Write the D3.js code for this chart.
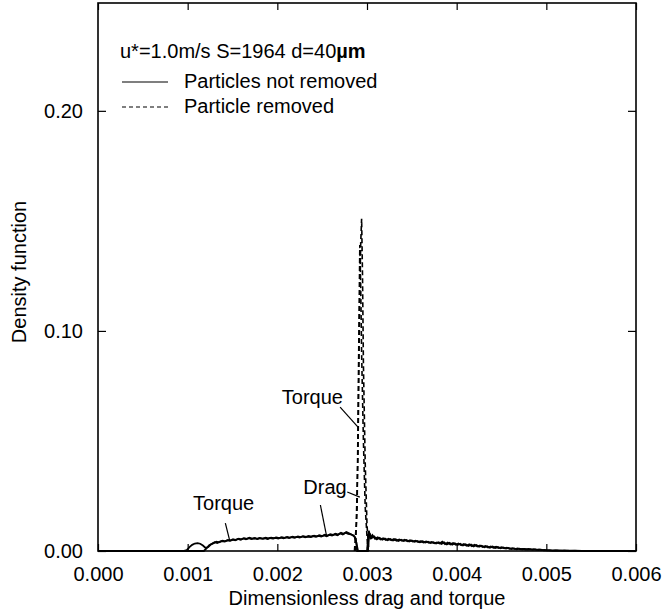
<!DOCTYPE html>
<html>
<head>
<meta charset="utf-8">
<script src="https://cdn.jsdelivr.net/npm/d3@7"></script>
<style>
  body { margin: 0; background: #fff; }
  svg { font-family: "Liberation Sans", Arial, sans-serif; }
</style>
</head>
<body>
<div id="chart"></div>
<script>
// x tick values and y tick values
const xTicks = [0, 0.001, 0.002, 0.003, 0.004, 0.005, 0.006];
const yTicks = [0, 0.10, 0.20];

// particles not removed - torque (solid), [x, density]
const torqueKept = [
  [0, 0], [0.00095, 0], [0.00099, 0.0004], [0.00102, 0.0018], [0.00105, 0.0028], [0.00108, 0.0034],
  [0.00111, 0.0036], [0.00114, 0.0033], [0.00117, 0.0025], [0.00120, 0.0014], [0.00123, 0.0018],
  [0.00126, 0.0030], [0.00129, 0.0036], [0.00132, 0.0042], [0.00135, 0.0039], [0.00138, 0.0045],
  [0.00141, 0.0043], [0.00144, 0.0048], [0.00147, 0.0046], [0.00150, 0.0052], [0.00153, 0.0049],
  [0.00156, 0.0055], [0.00159, 0.0051], [0.00162, 0.0057], [0.00165, 0.0053], [0.00168, 0.0058],
  [0.00171, 0.0054], [0.00174, 0.0057], [0.00177, 0.0055], [0.00180, 0.0059], [0.00183, 0.0056],
  [0.00186, 0.0058], [0.00189, 0.0054], [0.00192, 0.0059], [0.00195, 0.0056], [0.00198, 0.0060],
  [0.00201, 0.0057], [0.00204, 0.0061], [0.00207, 0.0058], [0.00210, 0.0062], [0.00213, 0.0059],
  [0.00216, 0.0063], [0.00219, 0.0060], [0.00222, 0.0064], [0.00225, 0.0061], [0.00228, 0.0066],
  [0.00231, 0.0062], [0.00234, 0.0065], [0.00237, 0.0063], [0.00240, 0.0068], [0.00243, 0.0064],
  [0.00246, 0.0069], [0.00249, 0.0066], [0.00252, 0.0071], [0.00255, 0.0067], [0.00258, 0.0073],
  [0.00261, 0.0070], [0.00264, 0.0076], [0.00267, 0.0072], [0.00270, 0.0080], [0.00273, 0.0075],
  [0.00276, 0.0083], [0.00279, 0.0078], [0.00282, 0.0076], [0.00285, 0.0071], [0.00287, 0.0060],
  [0.00289, 0.0020], [0.00290, 0],
  [0.00300, 0], [0.00301, 0.0040], [0.00302, 0.0092], [0.00304, 0.0060], [0.00306, 0.0072],
  [0.00309, 0.0055], [0.00312, 0.0062], [0.00315, 0.0052], [0.00318, 0.0058], [0.00321, 0.0050],
  [0.00324, 0.0056], [0.00327, 0.0049], [0.00330, 0.0054], [0.00333, 0.0047], [0.00336, 0.0052],
  [0.00339, 0.0046], [0.00342, 0.0051], [0.00345, 0.0044], [0.00348, 0.0049], [0.00351, 0.0043],
  [0.00354, 0.0047], [0.00357, 0.0041], [0.00360, 0.0045], [0.00363, 0.0039], [0.00366, 0.0043],
  [0.00369, 0.0037], [0.00372, 0.0041], [0.00375, 0.0035], [0.00378, 0.0039], [0.00381, 0.0034],
  [0.00384, 0.0042], [0.00387, 0.0031], [0.00390, 0.0038], [0.00393, 0.0030], [0.00396, 0.0036],
  [0.00399, 0.0028], [0.00402, 0.0034], [0.00405, 0.0026], [0.00408, 0.0032], [0.00411, 0.0024],
  [0.00414, 0.0030], [0.00417, 0.0022], [0.00420, 0.0028], [0.00423, 0.0020], [0.00426, 0.0025],
  [0.00429, 0.0018], [0.00432, 0.0023], [0.00435, 0.0016], [0.00438, 0.0021], [0.00441, 0.0015],
  [0.00444, 0.0019], [0.00447, 0.0013], [0.00450, 0.0017], [0.00453, 0.0012], [0.00456, 0.0015],
  [0.00459, 0.0010], [0.00462, 0.0013], [0.00465, 0.0009], [0.00468, 0.0012], [0.00471, 0.0008],
  [0.00474, 0.0010], [0.00477, 0.0007], [0.00480, 0.0009], [0.00483, 0.0006], [0.00486, 0.0008],
  [0.00489, 0.0005], [0.00492, 0.0007], [0.00495, 0.0004], [0.00498, 0.0005], [0.00501, 0.0003],
  [0.00504, 0.0004], [0.00507, 0.0002], [0.00510, 0.0003], [0.00514, 0.0002], [0.00520, 0.0003],
  [0.00526, 0.0001], [0.00532, 0.0002], [0.00540, 0.0001], [0.00550, 0], [0.00600, 0]
];

// particles not removed - drag (solid)
const dragKept = [
  [0, 0], [0.00118, 0], [0.00121, 0.0012], [0.00124, 0.0026], [0.00127, 0.0033], [0.00130, 0.0040],
  [0.00133, 0.0036], [0.00136, 0.0043], [0.00139, 0.0047], [0.00142, 0.0044], [0.00145, 0.0050],
  [0.00148, 0.0047], [0.00151, 0.0053], [0.00154, 0.0051], [0.00157, 0.0056], [0.00160, 0.0053],
  [0.00163, 0.0058], [0.00166, 0.0055], [0.00169, 0.0060], [0.00172, 0.0056], [0.00175, 0.0059],
  [0.00178, 0.0054], [0.00181, 0.0058], [0.00184, 0.0055], [0.00187, 0.0060], [0.00190, 0.0057],
  [0.00193, 0.0061], [0.00196, 0.0058], [0.00199, 0.0062], [0.00202, 0.0059], [0.00205, 0.0063],
  [0.00208, 0.0060], [0.00211, 0.0064], [0.00214, 0.0061], [0.00217, 0.0065], [0.00220, 0.0062],
  [0.00223, 0.0066], [0.00226, 0.0063], [0.00229, 0.0067], [0.00232, 0.0064], [0.00235, 0.0068],
  [0.00238, 0.0065], [0.00241, 0.0070], [0.00244, 0.0067], [0.00247, 0.0072], [0.00250, 0.0068],
  [0.00253, 0.0074], [0.00256, 0.0070], [0.00259, 0.0076], [0.00262, 0.0073], [0.00265, 0.0079],
  [0.00268, 0.0075], [0.00271, 0.0083], [0.00274, 0.0078], [0.00277, 0.0086], [0.00280, 0.0080],
  [0.00283, 0.0074], [0.00286, 0.0066], [0.00288, 0.0040], [0.00289, 0],
  [0.00301, 0], [0.00302, 0.0050], [0.00303, 0.0080], [0.00305, 0.0058], [0.00308, 0.0066],
  [0.00311, 0.0053], [0.00314, 0.0060], [0.00317, 0.0051], [0.00320, 0.0057], [0.00323, 0.0049],
  [0.00326, 0.0055], [0.00329, 0.0048], [0.00332, 0.0053], [0.00335, 0.0046], [0.00338, 0.0051],
  [0.00341, 0.0045], [0.00344, 0.0050], [0.00347, 0.0043], [0.00350, 0.0048], [0.00353, 0.0042],
  [0.00356, 0.0046], [0.00359, 0.0040], [0.00362, 0.0044], [0.00365, 0.0038], [0.00368, 0.0042],
  [0.00371, 0.0036], [0.00374, 0.0040], [0.00377, 0.0034], [0.00380, 0.0040], [0.00383, 0.0032],
  [0.00386, 0.0039], [0.00389, 0.0030], [0.00392, 0.0037], [0.00395, 0.0029], [0.00398, 0.0035],
  [0.00401, 0.0027], [0.00404, 0.0033], [0.00407, 0.0025], [0.00410, 0.0031], [0.00413, 0.0023],
  [0.00416, 0.0029], [0.00419, 0.0021], [0.00422, 0.0027], [0.00425, 0.0019], [0.00428, 0.0024],
  [0.00431, 0.0017], [0.00434, 0.0022], [0.00437, 0.0015], [0.00440, 0.0020], [0.00443, 0.0014],
  [0.00446, 0.0018], [0.00449, 0.0012], [0.00452, 0.0016], [0.00455, 0.0011], [0.00458, 0.0014],
  [0.00461, 0.0009], [0.00464, 0.0012], [0.00467, 0.0008], [0.00470, 0.0011], [0.00473, 0.0007],
  [0.00476, 0.0009], [0.00479, 0.0006], [0.00482, 0.0008], [0.00485, 0.0005], [0.00488, 0.0007],
  [0.00491, 0.0004], [0.00494, 0.0006], [0.00497, 0.0003], [0.00500, 0.0004], [0.00505, 0.0002],
  [0.00512, 0.0003], [0.00518, 0.0001], [0.00525, 0.0002], [0.00535, 0.0001], [0.00545, 0], [0.00600, 0]
];

// particles removed - torque and drag spikes (dashed)
const torqueRemoved = [
  [0.00286, 0], [0.00288, 0.012], [0.00290, 0.045], [0.00291, 0.085], [0.00292, 0.118],
  [0.00293, 0.140], [0.00294, 0.151], [0.00295, 0.125], [0.00296, 0.085], [0.00298, 0.040],
  [0.00300, 0.012], [0.00302, 0]
];
const dragRemoved = [
  [0.00287, 0], [0.00289, 0.020], [0.00290, 0.060], [0.00291, 0.100], [0.00292, 0.139],
  [0.00293, 0.120], [0.00294, 0.090], [0.00296, 0.050], [0.00298, 0.020], [0.00301, 0]
];

const W = 666, H = 614;
const margin = { top: 3, right: 30, bottom: 63, left: 98 };
const width = W - margin.left - margin.right;
const height = H - margin.top - margin.bottom;
const fs = "20px";

const svg = d3.select("#chart").append("svg")
  .attr("width", W).attr("height", H);
const g = svg.append("g").attr("transform", `translate(${margin.left},${margin.top})`);

const x = d3.scaleLinear().domain([0, 0.006]).range([0, width]);
const y = d3.scaleLinear().domain([0, 0.249]).range([height, 0]);

// axes - ticks pointing inward on all four sides
g.append("g")
  .attr("transform", `translate(0,${height})`)
  .call(d3.axisBottom(x).tickValues(xTicks).tickFormat(d3.format(".3f")).tickSizeInner(-7).tickSizeOuter(0).tickPadding(16))
  .call(a => a.select(".domain").remove())
  .call(a => a.selectAll(".tick text").attr("font-size", fs).attr("fill", "#000"));

g.append("g")
  .call(d3.axisTop(x).tickValues(xTicks).tickFormat("").tickSizeInner(-7).tickSizeOuter(0))
  .call(a => a.select(".domain").remove());

g.append("g")
  .call(d3.axisLeft(y).tickValues(yTicks).tickFormat(d3.format(".2f")).tickSizeInner(-8).tickSizeOuter(0).tickPadding(15))
  .call(a => a.select(".domain").remove())
  .call(a => a.selectAll(".tick text").attr("font-size", fs).attr("fill", "#000"));

g.append("g")
  .attr("transform", `translate(${width},0)`)
  .call(d3.axisRight(y).tickValues(yTicks).tickFormat("").tickSizeInner(-8).tickSizeOuter(0))
  .call(a => a.select(".domain").remove());

g.selectAll(".tick line").attr("stroke", "#000").attr("stroke-width", 1.2);

// frame
g.append("rect")
  .attr("width", width).attr("height", height)
  .attr("fill", "none").attr("stroke", "#000").attr("stroke-width", 1.6);

const line = d3.line().x(d => x(d[0])).y(d => y(d[1]));

[torqueKept, dragKept].forEach(s => {
  g.append("path").datum(s)
    .attr("fill", "none").attr("stroke", "#000").attr("stroke-width", 1.8)
    .attr("d", line);
});
[torqueRemoved, dragRemoved].forEach(s => {
  g.append("path").datum(s)
    .attr("fill", "none").attr("stroke", "#000").attr("stroke-width", 1.6)
    .attr("stroke-dasharray", "5,3")
    .attr("d", line);
});

// legend
g.append("text").attr("x", 22).attr("y", 55).attr("font-size", fs)
  .text("u*=1.0m/s S=1964 d=40")
  .append("tspan").attr("font-weight", "bold").text("µm");
g.append("line").attr("x1", 24).attr("x2", 70).attr("y1", 79).attr("y2", 79)
  .attr("stroke", "#000").attr("stroke-width", 1.2);
g.append("text").attr("x", 86).attr("y", 85).attr("font-size", fs).text("Particles not removed");
g.append("line").attr("x1", 24).attr("x2", 70).attr("y1", 104).attr("y2", 104)
  .attr("stroke", "#000").attr("stroke-width", 1.2).attr("stroke-dasharray", "4,3");
g.append("text").attr("x", 86).attr("y", 110).attr("font-size", fs).text("Particle removed");

// annotations with leader lines
const notes = [
  { text: "Torque", tx: 0.00205, ty: 0.0668, from: [0.00270, 0.0654], to: [0.00290, 0.0563] },
  { text: "Drag", tx: 0.00229, ty: 0.0259, from: [0.00278, 0.0268], to: [0.00292, 0.0245] },
  { text: "Drag", tx: null, from: [0.00248, 0.0209], to: [0.00255, 0.0066] },
  { text: "Torque", tx: 0.00106, ty: 0.0186, from: [0.00142, 0.0127], to: [0.00147, 0.0046] }
];
notes.forEach(n => {
  if (n.tx !== null) {
    g.append("text").attr("x", x(n.tx)).attr("y", y(n.ty)).attr("font-size", fs).text(n.text);
  }
  g.append("line")
    .attr("x1", x(n.from[0])).attr("y1", y(n.from[1]))
    .attr("x2", x(n.to[0])).attr("y2", y(n.to[1]))
    .attr("stroke", "#000").attr("stroke-width", 1.2);
});

// axis titles
svg.append("text")
  .attr("x", margin.left + width / 2).attr("y", 605)
  .attr("text-anchor", "middle").attr("font-size", fs)
  .text("Dimensionless drag and torque");
svg.append("text")
  .attr("transform", `translate(26,272) rotate(-90)`)
  .attr("text-anchor", "middle").attr("font-size", fs)
  .text("Density function");
</script>
</body>
</html>
